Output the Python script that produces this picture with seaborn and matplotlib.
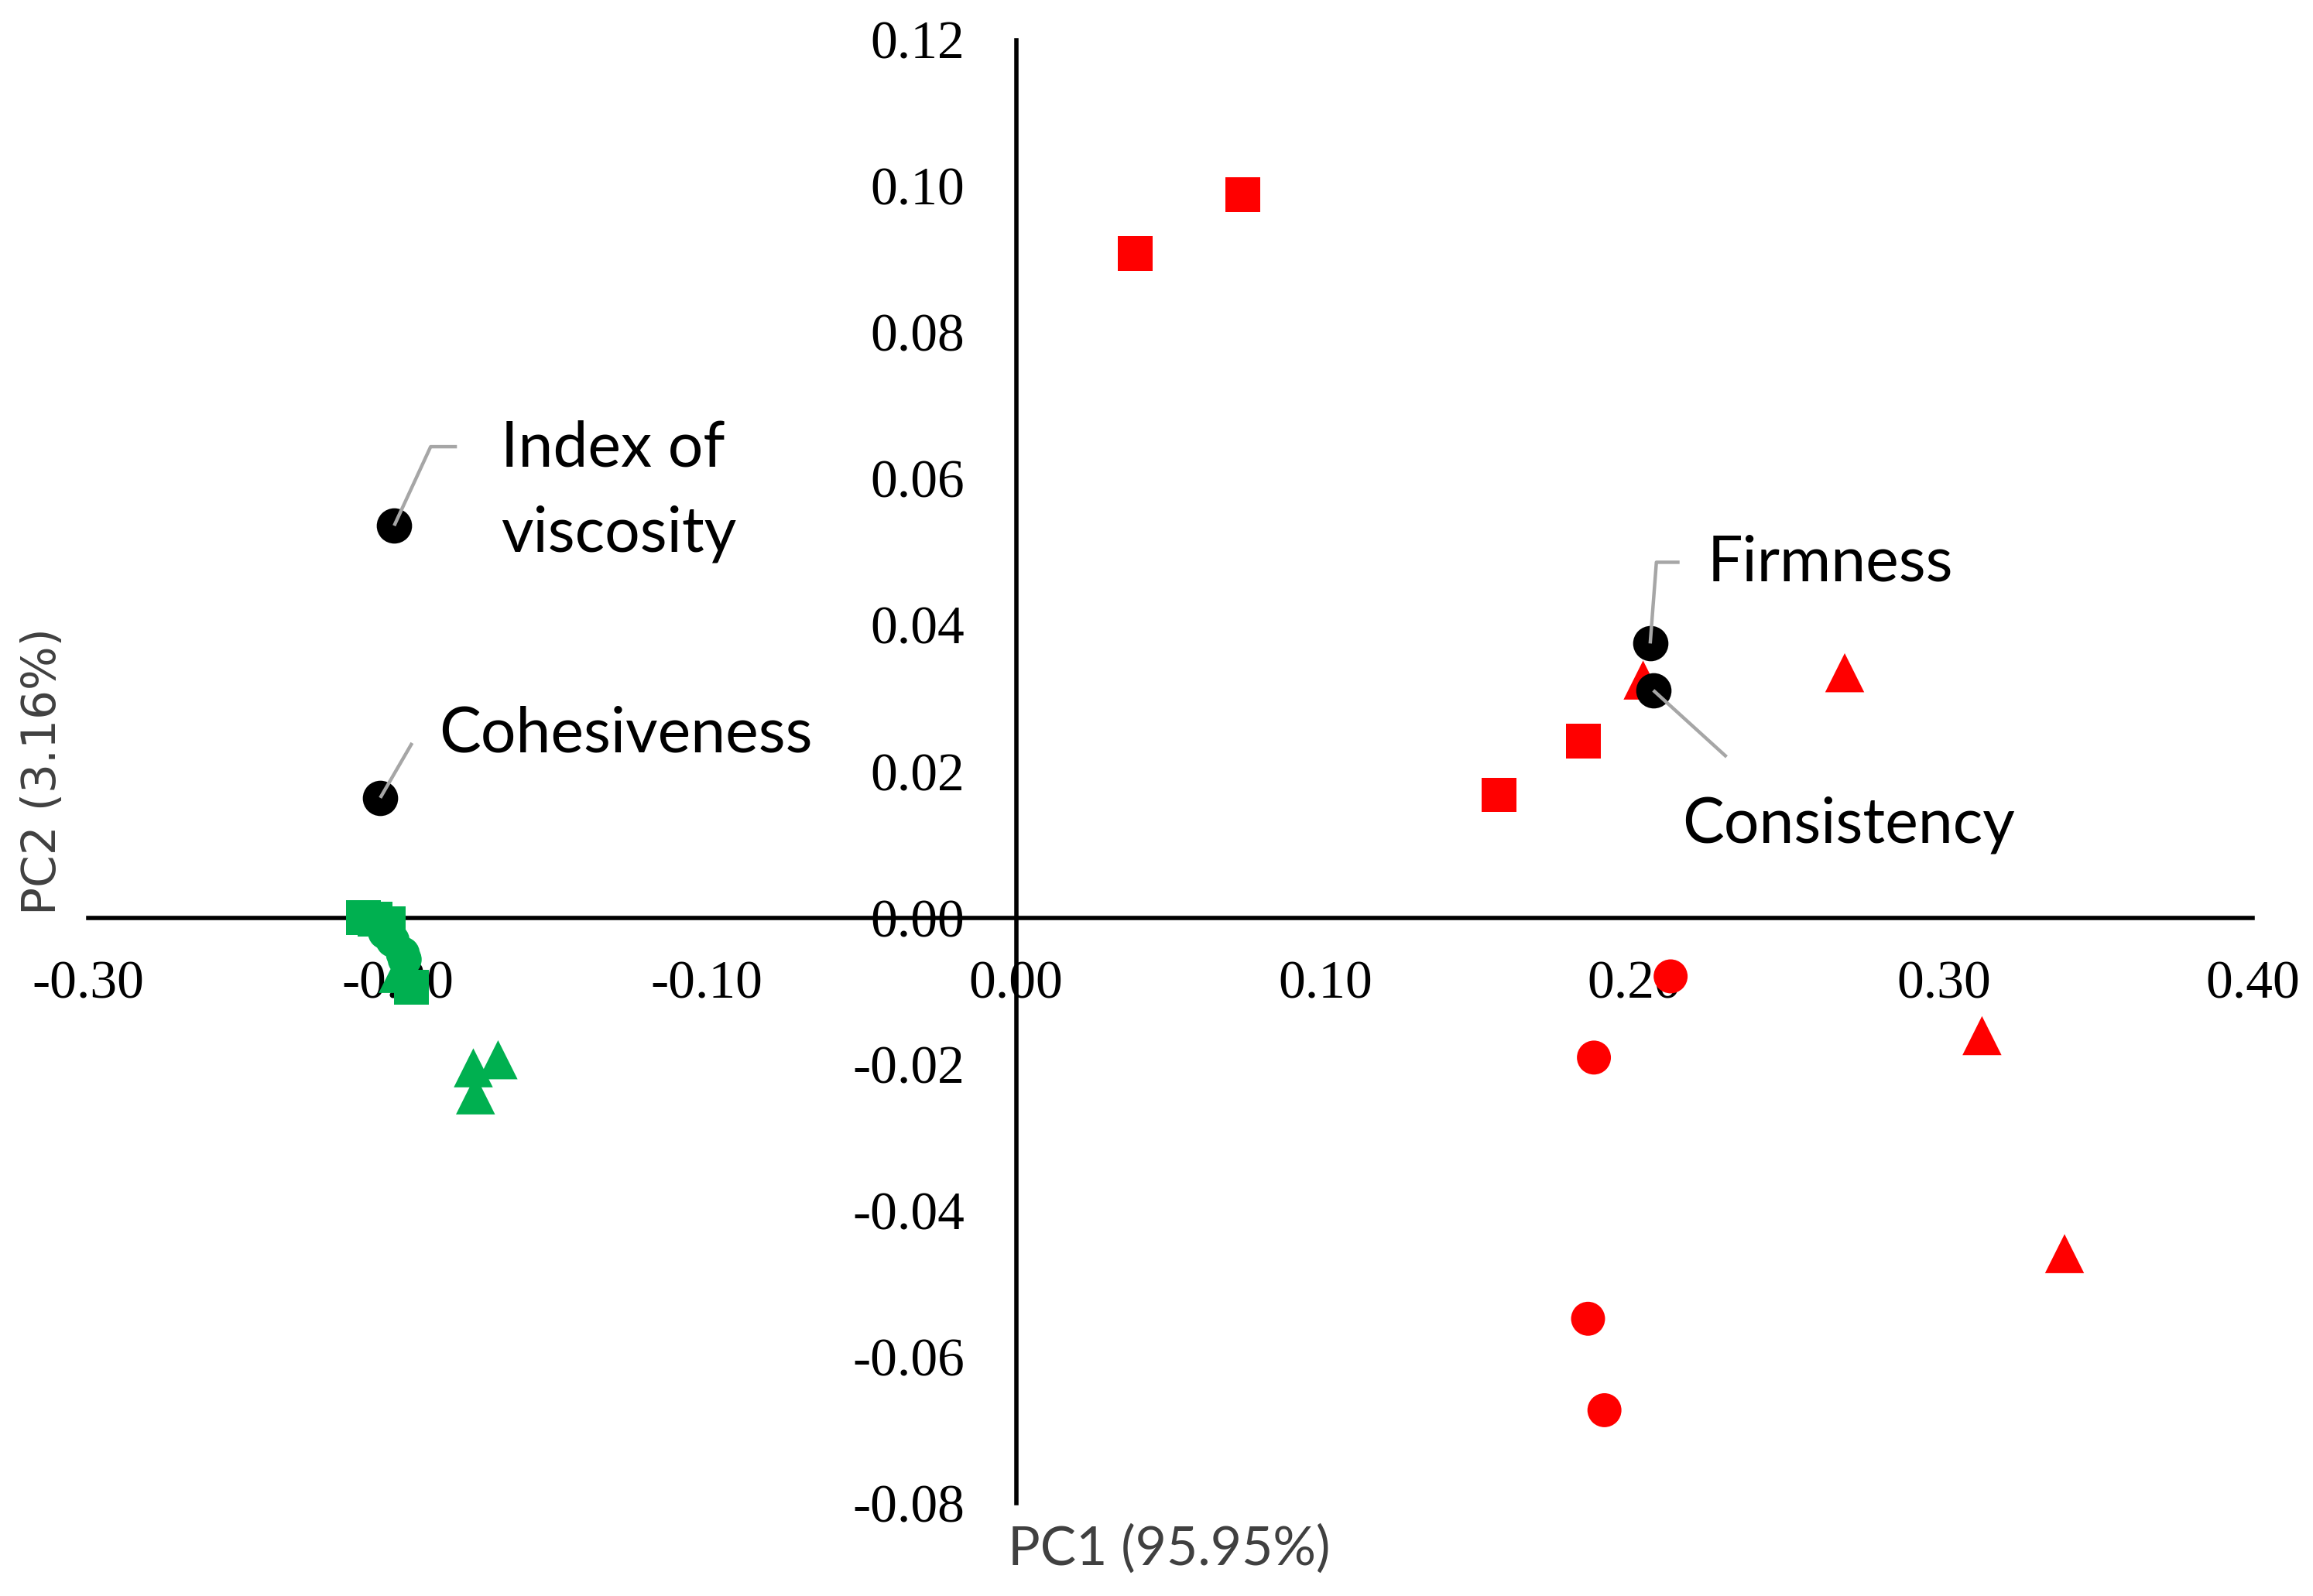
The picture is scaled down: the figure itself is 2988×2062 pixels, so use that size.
import numpy as np
import pandas as pd
import matplotlib
matplotlib.use("Agg")
import matplotlib.pyplot as plt
import seaborn as sns

# ---------------- data ----------------
red_sq_pc1 = [0.0385, 0.0734, 0.1835, 0.1562]
red_sq_pc2 = [0.0908, 0.0988, 0.0242, 0.0168]
red_tri_pc1 = [0.2028, 0.2680, 0.3124, 0.3391]
red_tri_pc2 = [0.0325, 0.0335, -0.0161, -0.0459]
red_cir_pc1 = [0.2117, 0.1869, 0.1850, 0.1903]
red_cir_pc2 = [-0.0080, -0.0191, -0.0548, -0.0673]

green_sq_pc1 = [-0.2111, -0.2073, -0.2031, -0.1955]
green_sq_pc2 = [0.0000, -0.0002, -0.0008, -0.0095]
green_cir_pc1 = [-0.2041, -0.2016, -0.1983, -0.1977]
green_cir_pc2 = [-0.0020, -0.0031, -0.0049, -0.0057]
green_tri_pc1 = [-0.1998, -0.1755, -0.1675, -0.1748]
green_tri_pc2 = [-0.0076, -0.0205, -0.0194, -0.0242]

load_names = ["Index of\nviscosity", "Cohesiveness", "Firmness", "Consistency"]
load_pc1 = [-0.2011, -0.2056, 0.2051, 0.2061]
load_pc2 = [0.0536, 0.0164, 0.0375, 0.0311]

x_ticks = [-0.30, -0.20, -0.10, 0.00, 0.10, 0.20, 0.30, 0.40]
y_ticks = [-0.08, -0.06, -0.04, -0.02, 0.00, 0.02, 0.04, 0.06, 0.08, 0.10, 0.12]
x_label = "PC1 (95.95%)"
y_label = "PC2 (3.16%)"

# ---------------- build frame ----------------
rows = []
for grp, shape, xs, ys in [
    ("red", "square", red_sq_pc1, red_sq_pc2),
    ("red", "triangle", red_tri_pc1, red_tri_pc2),
    ("red", "circle", red_cir_pc1, red_cir_pc2),
    ("green", "square", green_sq_pc1, green_sq_pc2),
    ("green", "circle", green_cir_pc1, green_cir_pc2),
    ("green", "triangle", green_tri_pc1, green_tri_pc2),
]:
    for x, y in zip(xs, ys):
        rows.append({"PC1": x, "PC2": y, "group": grp, "shape": shape})
df = pd.DataFrame(rows)
load_df = pd.DataFrame({"PC1": load_pc1, "PC2": load_pc2, "name": load_names})

# ---------------- style ----------------
sns.set_theme(style="white")
plt.rcParams["axes.unicode_minus"] = False
plt.rcParams["font.family"] = ["DejaVu Sans"]

fig = plt.figure(figsize=(14.94, 10.31), dpi=200)
ax = fig.add_axes([0.0382, 0.0582, 0.974 - 0.0382, 0.975 - 0.0582])

palette = {"red": "#FF0000", "green": "#00B050"}
markers = {"square": "s", "triangle": "^", "circle": "o"}
sizes = {"square": 262, "triangle": 330, "circle": 250}

sns.scatterplot(data=df, x="PC1", y="PC2", hue="group", style="shape",
                size="shape", palette=palette, markers=markers, sizes=sizes,
                linewidth=0, legend=False, ax=ax, zorder=3)

sns.scatterplot(data=load_df, x="PC1", y="PC2", color="black", marker="o",
                s=270, linewidth=0, legend=False, ax=ax, zorder=4)

# leader lines (offsets relative to the loading points, data units)
leader_offsets = [
    [(0.0, 0.0), (0.0118, 0.0108), (0.0203, 0.0108)],
    [(0.0, 0.0), (0.0103, 0.0075)],
    [(0.0, 0.0), (0.0020, 0.0111), (0.0095, 0.0111)],
    [(0.0, 0.0), (0.0237, -0.0091)],
]
label_offsets = [(0.0345, 0.0047), (0.0190, 0.0087), (0.0186, 0.0110), (0.0093, -0.0184)]

for (px, py), offs, (lx, ly), name in zip(zip(load_pc1, load_pc2), leader_offsets,
                                         label_offsets, load_names):
    xs = [px + o[0] for o in offs]
    ys = [py + o[1] for o in offs]
    ax.plot(xs, ys, color="#A6A6A6", lw=1.6, zorder=5, solid_capstyle="butt")
    ax.text(px + lx, py + ly, name, ha="left", va="center", fontsize=29,
            family=["Lato", "DejaVu Sans"], color="black", linespacing=1.6,
            zorder=6)

# axes through origin
ax.set_xlim(-0.30, 0.40)
ax.set_ylim(-0.08, 0.12)
for side in ["top", "right"]:
    ax.spines[side].set_visible(False)
ax.spines["left"].set_position(("data", 0))
ax.spines["bottom"].set_position(("data", 0))
for side in ["left", "bottom"]:
    ax.spines[side].set_color("black")
    ax.spines[side].set_linewidth(2.0)
    ax.spines[side].set_zorder(2)

ax.set_xticks(x_ticks)
ax.set_yticks(y_ticks)
ax.set_xticklabels([f"{v:.2f}" for v in x_ticks])
ax.set_yticklabels([f"{v:.2f}" for v in y_ticks])
ax.tick_params(axis="x", length=0, pad=20)
ax.tick_params(axis="y", length=0, pad=24)
for lab in ax.get_xticklabels() + ax.get_yticklabels():
    lab.set_fontfamily(["Liberation Serif", "DejaVu Serif"])
    lab.set_fontsize(25)
    lab.set_color("black")

ax.set_xlabel("")
ax.set_ylabel("")
ax.grid(False)

# axis titles
fig.text(1302 / 2988, 1 - 2001 / 2062, x_label, ha="left", va="center",
         fontsize=25, family=["Lato", "DejaVu Sans"], color="#404040")
fig.text(56 / 2988, 1 - 997 / 2062, y_label, ha="center", va="center",
         rotation=90, fontsize=21.5, family=["DejaVu Sans"], color="#404040")

fig.savefig("out.png", dpi=200, facecolor="white")
